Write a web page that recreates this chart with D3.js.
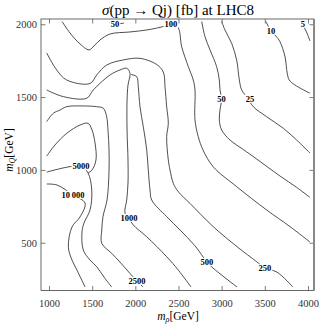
<!DOCTYPE html>
<head>
  <meta charset="utf-8">
  <style>
    body { margin: 0; background: #fff; }
    svg text { font-family: "Liberation Serif", "Times New Roman", serif; }
    .contour { fill: none; stroke: #222; stroke-width: 0.8px; }
    .clabel { font-size: 8.5px; font-weight: bold; text-anchor: middle; fill: #000; }
    .tick text { font-size: 10.5px; fill: #333; font-family: "Liberation Serif", serif; }
    .tick line { stroke: #444; stroke-width: 0.7px; }
  </style>
</head>
<body>
  <div id="chart"></div>
  <script src="https://cdnjs.cloudflare.com/ajax/libs/d3/7.8.5/d3.min.js"></script>
  <script>
    var width = 320,
        height = 325;

    // tick labels
    var xTicks = [1000, 1500, 2000, 2500, 3000, 3500, 4000];
    var yTicks = [500, 1000, 1500, 2000];

    // contour lines, [m_rho, m_Q] in GeV
    var c10000 = [[973,903],[1093,896],[1278,828],[1417,772],[1359,677],[1266,608],[1224,470],[1266,381],[1324,312],[1417,196]];
    var c5000a = [[973,985],[1220,1020],[1371,1027],[1452,979],[1495,862],[1475,725],[1405,635],[1382,574],[1397,450],[1475,381],[1553,335],[1637,264],[1726,196]];
    var c5000b = [[973,1095],[1069,1171],[1205,1251],[1359,1308],[1452,1320],[1498,1274],[1533,1185],[1544,1068],[1498,999],[1452,979]];
    var c2500 = [[973,1331],[1050,1389],[1127,1411],[1205,1434],[1397,1439],[1553,1434],[1629,1423],[1668,1365],[1683,1274],[1695,1137],[1695,985],[1672,793],[1626,682],[1611,588],[1611,496],[1726,427],[1822,367],[1938,289],[2020,237],[2089,196]];
    var c1000 = [[973,1549],[1166,1503],[1437,1492],[1513,1549],[1707,1652],[1822,1686],[1900,1698],[1938,1663],[1915,1583],[1904,1480],[1904,1274],[1915,1068],[1915,910],[1900,793],[1880,704],[1927,670],[1976,622],[2132,541],[2363,404],[2498,312],[2645,196]];
    var c500 = [[1950,1655],[2016,1640],[2034,1571],[2054,1434],[2092,1297],[2132,1137],[2150,999],[2170,862],[2190,793],[2363,679],[2517,588],[2691,479],[2830,367],[2900,326],[3178,196]];
    var c250 = [[973,1803],[1089,1686],[1205,1617],[1475,1593],[1553,1652],[1668,1720],[1861,1755],[2054,1766],[2247,1724],[2324,1672],[2344,1571],[2363,1434],[2382,1320],[2363,1228],[2382,1068],[2402,999],[2440,908],[2498,850],[2633,770],[2903,610],[3178,473],[3405,370],[3502,326],[3641,298],[3826,196]];
    var c100 = [[1151,2019],[1243,1940],[1359,1865],[1463,1824],[1521,1851],[1591,1892],[1707,1933],[1938,1947],[2135,1961],[2344,1988],[2425,2009],[2498,1975],[2537,1846],[2614,1709],[2671,1617],[2691,1549],[2691,1343],[2729,1228],[2784,1137],[2900,1023],[3174,885],[3521,725],[3791,611],[4023,505]];
    var c50a = [[1700,2012],[1810,2004],[1870,2008]];
    var c50b = [[2769,2019],[2807,1915],[2865,1824],[2942,1709],[2973,1617],[2981,1549],[2998,1485],[2981,1411],[2973,1343],[3000,1274],[3097,1205],[3251,1140],[3405,1075],[3676,958],[3869,880],[4023,811]];
    var c25 = [[3000,2019],[3038,1961],[3116,1869],[3174,1754],[3205,1617],[3232,1549],[3309,1487],[3366,1434],[3521,1365],[3714,1286],[3869,1205],[4023,1116]];
    var c10 = [[3513,2019],[3571,1954],[3629,1919],[3676,1880],[3734,1777],[3760,1663],[3783,1617],[3849,1583],[4023,1526]];
    var c5 = [[3919,2019],[3954,1981],[3988,1940],[4023,1885]];

    var contourLines = [c10000, c5000a, c5000b, c2500, c1000, c500, c250, c100, c50a, c50b, c25, c10, c5];

    // contour labels
    var labelText = ["10\u2009000", "5000", "2500", "1000", "500", "250", "100", "50", "50", "25", "10", "5"];
    var labelAt = [[1278,828],[1371,1027],[2020,237],[1927,670],[2830,367],[3502,326],[2413,2002],[1764,2002],[2998,1487],[3328,1487],[3571,1954],[3942,2002]];

    var svg = d3.select("#chart")
        .append("svg")
        .attr("width", width)
        .attr("height", height);

    var x = d3.scaleLinear().domain([907, 4070]).range([41, 314]);
    var y = d3.scaleLinear().domain([172, 2036]).range([290.5, 19]);

    var line = d3.line()
        .x(function(d) { return x(d[0]); })
        .y(function(d) { return y(d[1]); })
        .curve(d3.curveCatmullRom.alpha(0.5));

    svg.selectAll(".contour")
      .data(contourLines)
      .enter().append("path")
      .attr("class", "contour")
      .attr("d", line);

    // labels sit on a white box that hides the line under them
    var lab = svg.selectAll(".lab")
      .data(labelText)
      .enter().append("g")
      .attr("class", "lab")
      .attr("transform", function(d, i) { return "translate(" + x(labelAt[i][0]) + "," + y(labelAt[i][1]) + ")"; });

    lab.append("text")
      .attr("class", "clabel")
      .attr("dy", "0.33em")
      .text(function(d) { return d; });

    lab.each(function() {
      var g = d3.select(this);
      var b = g.select("text").node().getBBox();
      g.insert("rect", "text")
        .attr("x", b.x - 1).attr("y", b.y + 1)
        .attr("width", b.width + 2).attr("height", b.height - 2)
        .attr("fill", "#fff");
    });

    // frame ticks, minor every 100 GeV, major on the labels
    var fmt = d3.format("d");

    var gx = svg.append("g").attr("transform", "translate(0,290.5)");
    gx.call(d3.axisBottom(x).ticks(30).tickSize(-2.5).tickFormat(""));
    gx.call(d3.axisBottom(x).tickValues(xTicks).tickSize(-4.5).tickPadding(9).tickFormat(fmt));

    var gt = svg.append("g").attr("transform", "translate(0,19)");
    gt.call(d3.axisTop(x).ticks(30).tickSize(-2.5).tickFormat(""));
    gt.call(d3.axisTop(x).tickValues(xTicks).tickSize(-4.5).tickFormat(""));

    var gy = svg.append("g").attr("transform", "translate(41,0)");
    gy.call(d3.axisLeft(y).ticks(18).tickSize(-2.5).tickFormat(""));
    gy.call(d3.axisLeft(y).tickValues(yTicks).tickSize(-4.5).tickPadding(4).tickFormat(fmt));

    var gr = svg.append("g").attr("transform", "translate(314,0)");
    gr.call(d3.axisRight(y).ticks(18).tickSize(-2.5).tickFormat(""));
    gr.call(d3.axisRight(y).tickValues(yTicks).tickSize(-4.5).tickFormat(""));

    svg.selectAll(".domain").remove();

    svg.append("rect")
      .attr("x", 41).attr("y", 19)
      .attr("width", 273).attr("height", 271.5)
      .attr("fill", "none")
      .attr("stroke", "#444")
      .attr("stroke-width", 0.8);

    svg.append("line")
      .attr("x1", 314).attr("x2", 314)
      .attr("y1", 19).attr("y2", 290.5)
      .attr("stroke", "#888")
      .attr("stroke-width", 2);

    // title and axis labels
    var title = svg.append("text")
      .attr("x", 178).attr("y", 15)
      .attr("text-anchor", "middle")
      .style("font-size", "15px");
    title.append("tspan").style("font-style", "italic").text("\u03c3");
    title.append("tspan").text("(pp \u2192 Qj) [fb] at LHC8");

    var xl = svg.append("text")
      .attr("x", 178).attr("y", 320)
      .attr("text-anchor", "middle")
      .style("font-size", "11.5px");
    xl.append("tspan").style("font-style", "italic").text("m");
    xl.append("tspan").style("font-style", "italic").style("font-size", "8px").attr("dy", 2).text("\u03c1");
    xl.append("tspan").attr("dy", -2).text("[GeV]");

    var yl = svg.append("text")
      .attr("transform", "translate(13,150) rotate(-90)")
      .attr("text-anchor", "middle")
      .style("font-size", "11.5px");
    yl.append("tspan").style("font-style", "italic").text("m");
    yl.append("tspan").style("font-style", "italic").style("font-size", "8px").attr("dy", 2).text("Q");
    yl.append("tspan").attr("dy", -2).text("[GeV]");
  </script>
</body>
